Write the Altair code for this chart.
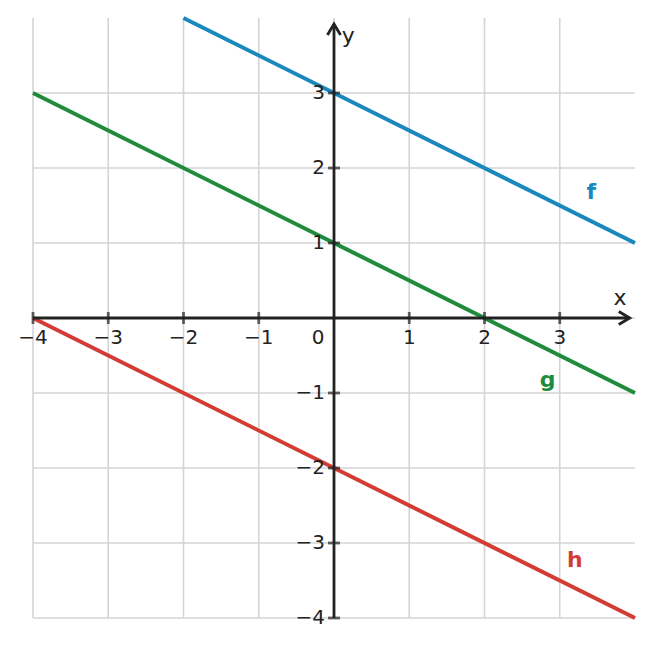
import altair as alt
import pandas as pd

# grid and axis values
grid_vals = [-4, -3, -2, -1, 0, 1, 2, 3]
x_tick_vals = [-4, -3, -2, -1, 1, 2, 3]
x_tick_text = ['−4', '−3', '−2', '−1', '1', '2', '3']
y_tick_vals = [-4, -3, -2, -1, 1, 2, 3]
y_tick_text = ['−4', '−3', '−2', '−1', '1', '2', '3']
x_end = 3.93
y_end = 3.92

# the three lines (endpoints)
line_names = ['f', 'f', 'g', 'g', 'h', 'h']
line_x = [-2, 4, -4, 4, -4, 4]
line_y = [4, 1, 3, -1, 0, -4]
label_names = ['f', 'g', 'h']
label_x = [3.42, 2.84, 3.2]
label_y = [1.68, -0.83, -3.23]
colors = ['#1a87bf', '#1f8c3d', '#d33c35']

font = 'DejaVu Sans'
ink = '#222222'

xs = alt.Scale(domain=[-4, 4], nice=False, zero=False)
ys = alt.Scale(domain=[-4, 4], nice=False, zero=False)

def X(f):
    return alt.X(f, scale=xs, axis=None)

def Y(f):
    return alt.Y(f, scale=ys, axis=None)

grid_v = alt.Chart(pd.DataFrame({'x': grid_vals, 'y0': -4, 'y1': 4})).mark_rule(
    color='#d4d4d4', strokeWidth=1.6).encode(x=X('x:Q'), y=Y('y0:Q'), y2='y1:Q')
grid_h = alt.Chart(pd.DataFrame({'y': grid_vals, 'x0': -4, 'x1': 4})).mark_rule(
    color='#d4d4d4', strokeWidth=1.6).encode(y=Y('y:Q'), x=X('x0:Q'), x2='x1:Q')

axes_df = pd.DataFrame({'x0': [-4, 0], 'x1': [x_end, 0], 'y0': [0, -4], 'y1': [0, y_end]})
axes = alt.Chart(axes_df).mark_rule(color=ink, strokeWidth=2.8).encode(
    x=X('x0:Q'), x2='x1:Q', y=Y('y0:Q'), y2='y1:Q')

arrow_x = alt.Chart(pd.DataFrame({'x': [x_end], 'y': [0]})).mark_point(
    shape='M -1 -0.6 L 0 0 L -1 0.6', size=480, filled=False, color=ink,
    strokeWidth=2.8, opacity=1).encode(x=X('x:Q'), y=Y('y:Q'))
arrow_y = alt.Chart(pd.DataFrame({'x': [0], 'y': [y_end]})).mark_point(
    shape='M -0.6 1 L 0 0 L 0.6 1', size=480, filled=False, color=ink,
    strokeWidth=2.8, opacity=1).encode(x=X('x:Q'), y=Y('y:Q'))

xt_df = pd.DataFrame({'x': x_tick_vals, 'y': 0, 'lab': x_tick_text})
x_ticks = alt.Chart(xt_df).mark_tick(orient='vertical', size=12, thickness=2.8, color=ink).encode(
    x=X('x:Q'), y=Y('y:Q'))
x_labels = alt.Chart(xt_df).mark_text(font=font, fontSize=20, color=ink, dy=20).encode(
    x=X('x:Q'), y=Y('y:Q'), text='lab:N')
zero_label = alt.Chart(pd.DataFrame({'x': [0], 'y': [0], 'lab': ['0']})).mark_text(
    font=font, fontSize=20, color=ink, dx=-16, dy=20).encode(x=X('x:Q'), y=Y('y:Q'), text='lab:N')

yt_df = pd.DataFrame({'x': 0, 'y': y_tick_vals, 'lab': y_tick_text})
y_ticks = alt.Chart(yt_df).mark_tick(orient='horizontal', size=12, thickness=2.8, color=ink).encode(
    x=X('x:Q'), y=Y('y:Q'))
y_labels = alt.Chart(yt_df).mark_text(font=font, fontSize=20, color=ink, dx=-9, align='right',
                                      baseline='middle').encode(x=X('x:Q'), y=Y('y:Q'), text='lab:N')

axis_names = alt.Chart(pd.DataFrame({'x': [3.8, 0.19], 'y': [0.27, 3.76], 'lab': ['x', 'y']})).mark_text(
    font=font, fontSize=22, color=ink).encode(x=X('x:Q'), y=Y('y:Q'), text='lab:N')

color_scale = alt.Scale(domain=label_names, range=colors)
lines = alt.Chart(pd.DataFrame({'name': line_names, 'x': line_x, 'y': line_y})).mark_line(
    strokeWidth=4).encode(x=X('x:Q'), y=Y('y:Q'), detail='name:N',
                          color=alt.Color('name:N', scale=color_scale, legend=None))
labels = alt.Chart(pd.DataFrame({'name': label_names, 'x': label_x, 'y': label_y})).mark_text(
    font=font, fontSize=22, fontWeight='bold').encode(
    x=X('x:Q'), y=Y('y:Q'), text='name:N',
    color=alt.Color('name:N', scale=color_scale, legend=None))

chart = alt.layer(grid_v, grid_h, lines, axes, arrow_x, arrow_y, x_ticks, y_ticks,
                  x_labels, zero_label, y_labels, axis_names, labels).properties(
    width=602, height=600, autosize=alt.AutoSizeParams(type='none'),
    padding={'left': 25, 'top': 10, 'right': 10, 'bottom': 22}
).configure_view(strokeWidth=0)

chart.save('out.html', embed_options={'renderer': 'svg', 'actions': False})
